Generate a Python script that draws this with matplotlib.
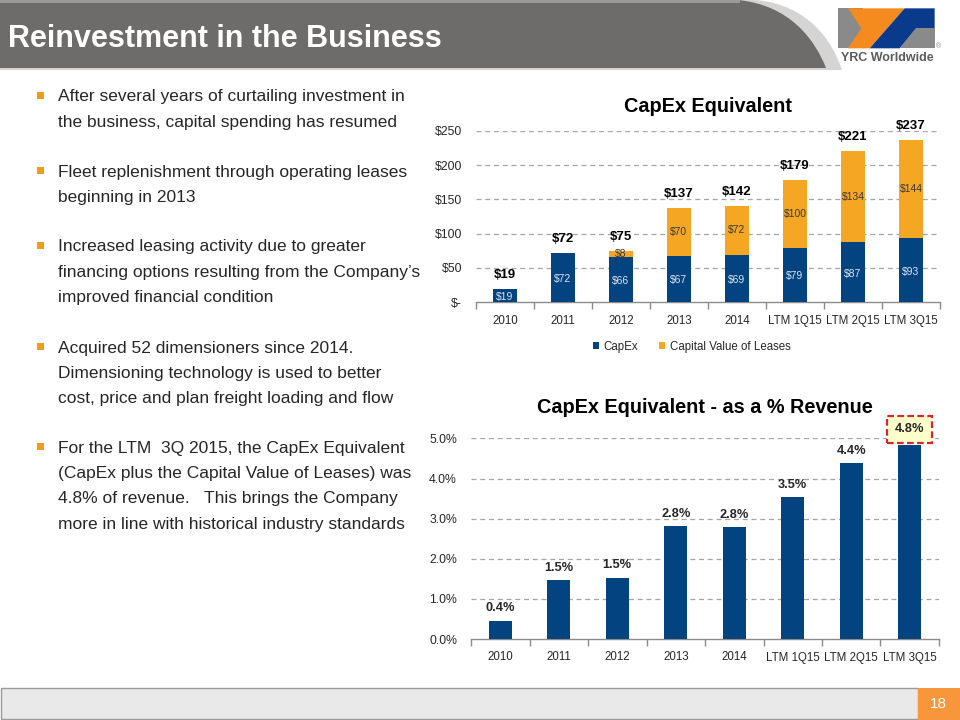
import matplotlib
matplotlib.use("Agg")
import matplotlib.pyplot as plt
from matplotlib.patches import Polygon, Rectangle, PathPatch
from matplotlib.path import Path

# ---------------- data ----------------
categories = ["2010", "2011", "2012", "2013", "2014", "LTM 1Q15", "LTM 2Q15", "LTM 3Q15"]
capex = [19, 72, 66, 67, 69, 79, 87, 93]
leases = [0, 0, 8, 70, 72, 100, 134, 144]
totals = [19, 72, 75, 137, 142, 179, 221, 237]
pct_revenue = [0.45, 1.47, 1.53, 2.81, 2.79, 3.54, 4.38, 4.85]
pct_labels = ["0.4%", "1.5%", "1.5%", "2.8%", "2.8%", "3.5%", "4.4%", "4.8%"]
capex_ticks = [0, 50, 100, 150, 200, 250]
capex_ticklabels = ["$-", "$50", "$100", "$150", "$200", "$250"]
pct_ticks = [0, 1, 2, 3, 4, 5]
pct_ticklabels = ["0.0%", "1.0%", "2.0%", "3.0%", "4.0%", "5.0%"]
bullets = [
    ["After several years of curtailing investment in",
     "the business, capital spending has resumed"],
    ["Fleet replenishment through operating leases",
     "beginning in 2013"],
    ["Increased leasing activity due to greater",
     "financing options resulting from the Company\u2019s",
     "improved financial condition"],
    ["Acquired 52 dimensioners since 2014.",
     "Dimensioning technology is used to better",
     "cost, price and plan freight loading and flow"],
    ["For the LTM  3Q 2015, the CapEx Equivalent",
     "(CapEx plus the Capital Value of Leases) was",
     "4.8% of revenue.   This brings the Company",
     "more in line with historical industry standards"],
]
title = "Reinvestment in the Business"
page_number = "18"

plt.rcParams["font.family"] = ["Liberation Sans", "DejaVu Sans"]

BLUE = "#03437f"
ORANGE = "#f5a623"
TXT = "#262626"
GRID = "#a6a6a6"

fig = plt.figure(figsize=(9.6, 7.2), dpi=100)
fig.patch.set_facecolor("white")

# overlay axis in pixel coordinates
ov = fig.add_axes([0, 0, 1, 1], zorder=0)
ov.set_xlim(0, 960)
ov.set_ylim(720, 0)
ov.axis("off")

# header band
verts = [(0, 0), (738, 0), (790, 5), (815, 40), (826, 68), (0, 68), (0, 0)]
codes = [Path.MOVETO, Path.LINETO, Path.CURVE4, Path.CURVE4, Path.CURVE4, Path.LINETO, Path.CLOSEPOLY]
shadow = [(0, 0), (756, 0), (808, 5), (832, 40), (842, 70), (0, 70), (0, 0)]
ov.add_patch(PathPatch(Path(shadow, codes), facecolor="#d4d4d4", edgecolor="none"))
ov.add_patch(PathPatch(Path(verts, codes), facecolor="#6e6c6b", edgecolor="none"))
ov.add_patch(Rectangle((0, 0), 740, 3, facecolor="#9c9a99", edgecolor="none"))
ov.text(8, 39, title, color="white", fontsize=22, fontweight="bold", va="center", ha="left")

# logo
def P(pts, c):
    ov.add_patch(Polygon([(838 + x / 3 - 55 / 3, y / 3) for x, y in pts], closed=True,
                         facecolor=c, edgecolor="none"))
P([(55, 25), (130, 25), (130, 145), (55, 145)], "#8a8a8a")
P([(85, 25), (255, 25), (150, 145), (85, 145), (125, 85)], "#f58a1f")
P([(255, 25), (345, 25), (345, 85), (290, 85), (240, 145), (150, 145)], "#0a3a8c")
P([(290, 85), (345, 85), (345, 145), (240, 145)], "#8a8a8a")
ov.text(887, 58, "YRC Worldwide", color="#5c5c5c", fontsize=9, fontweight="bold",
        ha="center", va="center")
ov.text(938, 47, "\u00ae", color="#888888", fontsize=5, ha="center", va="center")

# bullets
line_h = 25.4
starts = [97, 172, 247, 348, 448]
for start, lines in zip(starts, bullets):
    ov.add_patch(Rectangle((37, start - 5), 6.5, 6.5, facecolor="#f59a1e", edgecolor="none"))
    for i, ln in enumerate(lines):
        ov.text(58, start + i * line_h, ln, color=TXT, fontsize=12.5, ha="left", va="center")

# footer
ov.add_patch(Rectangle((0.5, 687.5), 917, 31, facecolor="#e9e9e9", edgecolor="#9a9a9a", lw=1))
ov.add_patch(Rectangle((918, 687.5), 42, 32, facecolor="#f7963a", edgecolor="none"))
ov.text(938, 704, page_number, color="white", fontsize=11, ha="center", va="center")

x = list(range(len(categories)))
W = 0.4

def style_axis(ax, ticks, ticklabels, ymax):
    ax.set_xlim(-0.5, len(categories) - 0.5)
    ax.set_ylim(0, ymax)
    ax.set_yticks(ticks)
    ax.set_yticklabels(ticklabels)
    ax.set_xticks(x)
    ax.set_xticklabels(categories)
    ax.set_xticks([i - 0.5 for i in range(len(categories) + 1)], minor=True)
    ax.tick_params(axis="x", which="major", length=0, pad=9, labelsize=8.3, colors=TXT)
    ax.tick_params(axis="x", which="minor", length=5, width=1, color="#8c8c8c", direction="out")
    ax.tick_params(axis="y", length=0, pad=10, labelsize=8.8, colors=TXT)
    for s in ["top", "right", "left"]:
        ax.spines[s].set_visible(False)
    ax.spines["bottom"].set_color("#8c8c8c")
    ax.spines["bottom"].set_linewidth(1)
    ax.set_facecolor("none")
    for t in ticks[1:]:
        ax.axhline(t, color=GRID, lw=0.9, ls=(0, (4, 3)), zorder=0)

# top chart
ax1 = fig.add_axes([476 / 960, 1 - 302 / 720, 464 / 960, 171 / 720], zorder=2)
style_axis(ax1, capex_ticks, capex_ticklabels, 250)
ax1.bar(x, capex, W, color=BLUE, zorder=3, label="CapEx")
ax1.bar(x, leases, W, bottom=capex, color=ORANGE, zorder=3, label="Capital Value of Leases")
for i in x:
    ax1.text(i, capex[i] / 2 - 2, f"${capex[i]}", color="#dbe4ef", fontsize=7.5,
             ha="center", va="center", zorder=4)
    if leases[i] > 0:
        ax1.text(i, capex[i] + leases[i] / 2, f"${leases[i]}", color="#3a3a3a", fontsize=7.5,
                 ha="center", va="center", zorder=4)
    ax1.annotate(f"${totals[i]}", (i, capex[i] + leases[i]), xytext=(0, 10),
                 textcoords="offset points", ha="center", va="center", fontsize=9.5,
                 fontweight="bold", color="black", annotation_clip=False, zorder=5)
ax1.set_title("CapEx Equivalent", fontsize=14.3, fontweight="bold", color="black", pad=14)
leg = ax1.legend(loc="upper center", bbox_to_anchor=(0.465, -0.165), ncol=2, frameon=False,
                 fontsize=8.3, handlelength=0.55, handleheight=0.55, handletextpad=0.4,
                 columnspacing=1.8)
for t in leg.get_texts():
    t.set_color(TXT)

# bottom chart
ax2 = fig.add_axes([471 / 960, 1 - 639 / 720, 468 / 960, 200.5 / 720], zorder=2)
style_axis(ax2, pct_ticks, pct_ticklabels, 5)
ax2.bar(x, pct_revenue, W, color=BLUE, zorder=3)
for i in x[:-1]:
    ax2.annotate(pct_labels[i], (i, pct_revenue[i]), xytext=(0, 9), textcoords="offset points",
                 ha="center", va="center", fontsize=9.2, fontweight="bold", color=TXT,
                 annotation_clip=False, zorder=5)
# highlighted last label
last = len(categories) - 1
ax2.annotate(pct_labels[last], (last, pct_revenue[last]), xytext=(0, 11),
             textcoords="offset points", ha="center", va="center", fontsize=9.2,
             fontweight="bold", color=TXT, annotation_clip=False, zorder=6,
             bbox=dict(boxstyle="square,pad=0.6", facecolor="#ffffcc", edgecolor="#d9262b",
                       lw=1.6, ls=(0, (3, 1.5))))
ax2.set_title("CapEx Equivalent - as a % Revenue", fontsize=14.3, fontweight="bold",
              color="black", pad=18)

fig.savefig("out.png", dpi=100, facecolor="white")
